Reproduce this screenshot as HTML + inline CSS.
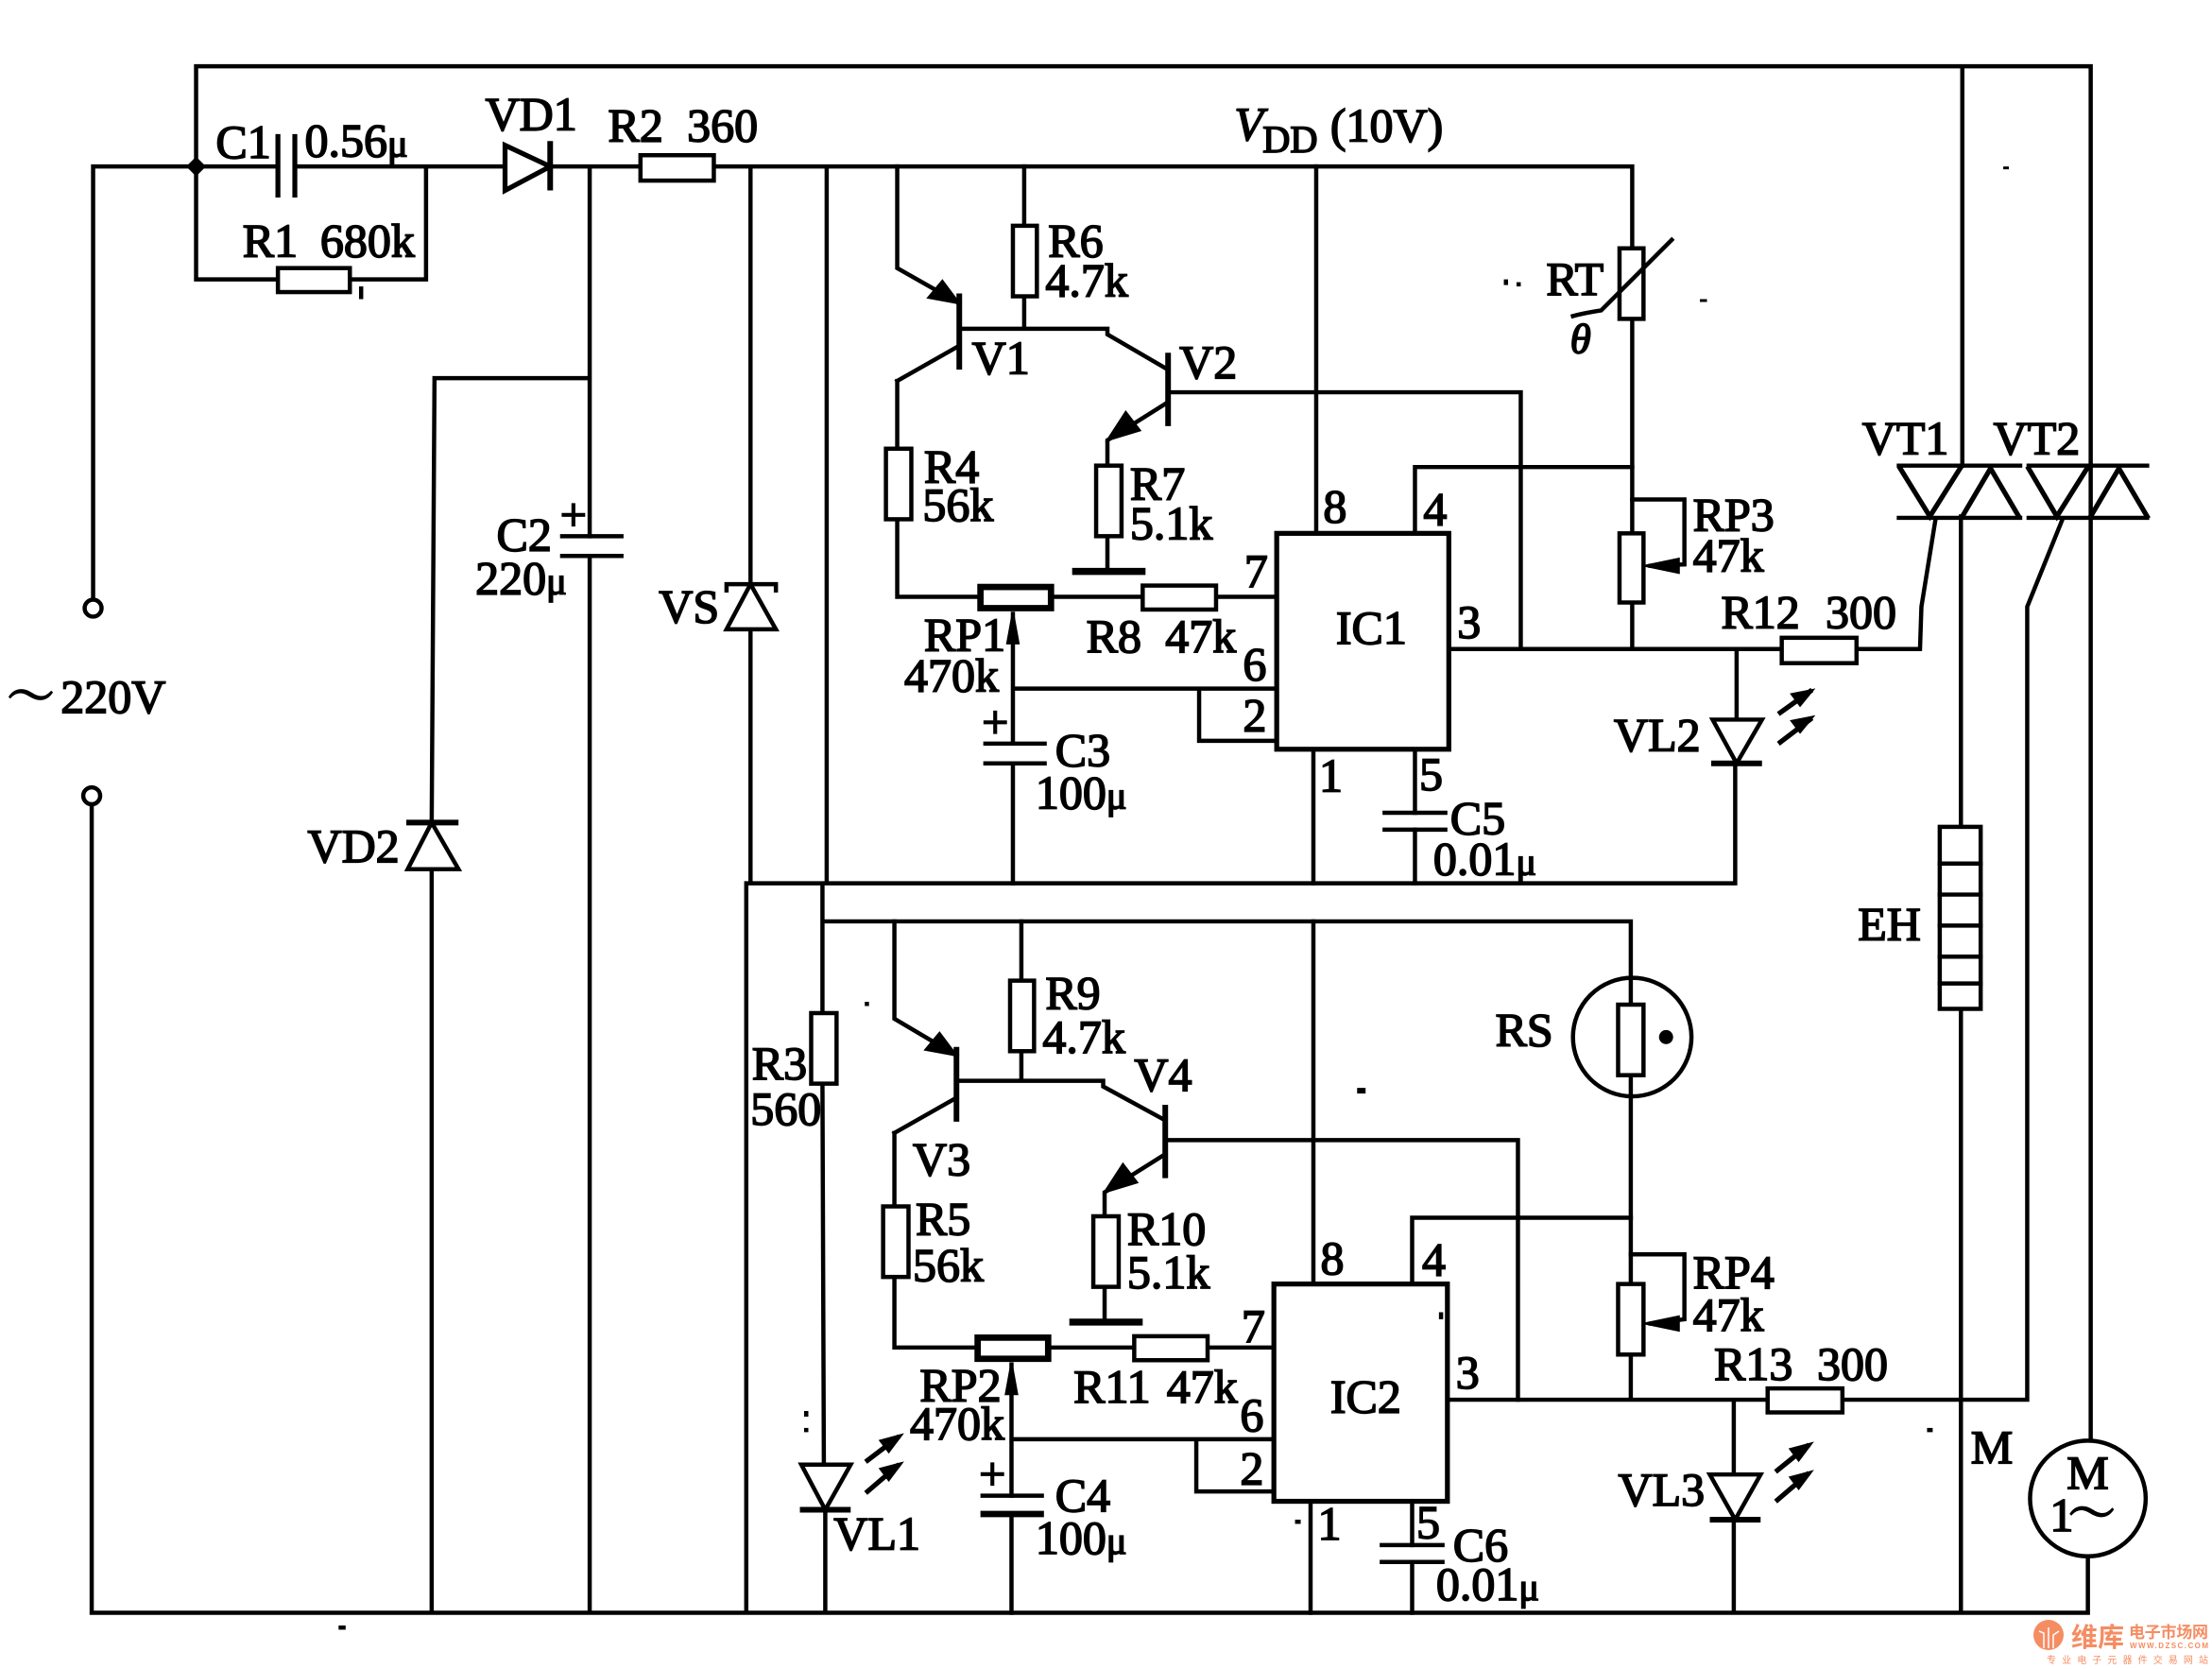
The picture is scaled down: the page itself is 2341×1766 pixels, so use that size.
<!DOCTYPE html>
<html><head><meta charset="utf-8"><style>
html,body{margin:0;padding:0;background:#fff}
svg{display:block}
.w{fill:none;stroke:#000;stroke-width:3;stroke-linejoin:miter;stroke-linecap:square}
.t{fill:#000;stroke:#000;stroke-width:1.5}
.b{fill:#fff;stroke:#000;stroke-width:3}
.h{fill:none;stroke:#000;stroke-width:5}
text{font-family:"Liberation Serif","Noto Serif CJK SC",serif;font-size:33.5px;fill:#000;stroke:#000;stroke-width:1.1}
.u{font-size:27px}
.wm{font-family:"Liberation Sans","Noto Sans CJK SC",sans-serif;fill:#f58d63;stroke:none;font-weight:700}
</style></head><body>
<svg xmlns="http://www.w3.org/2000/svg" width="2341" height="1766" viewBox="0 0 2341 1766">
<rect width="2341" height="1766" fill="#fff"/>
<g transform="scale(1.493)">
<!-- wires -->
<path class="w" d="M139 118V47H1482V1021M66 425V118H197M209 118H357M390 118H454M506 118H1157V176M1157 226V378M1157 427V460
M139 118V198H197M248 198H302V118M418 118V380M418 394V1143M308 268H418M308 268L306 583M306 616V1143
M532 118V414M532 446V626H1230V541M586 118V626M529 626V1143M583 626V718M583 768L584 1038M585 1070V1143
M584 653H1156V712M1156 762V910M1156 960V992M65 570V1143H1480V1103
M1391 47V330M1390 366V586M1390 715V1143M1316 460H1361L1362 430L1372 368M1462 368L1437 430V992H1306
M1027 460H1263M1231 460V510M1027 992H1253M1229 992V1045M1229 1077V1143"/>
<!-- top transistor block -->
<path class="w" d="M636 118V190L680 215M680 233H785V237L828 262M636 270L680 245M636 270V318M636 368V423H694M746 423H810M862 423H905
M726 118V160M726 210V233M828 278H1078V460M828 285L785 312V330M785 380V405M718 435V527M718 541V626M718 488H905M850 488V525H905
M933 118V378M931 531V626M1003 378V331H1157M1003 531V576M1003 588V626M1157 354H1194V400L1170 401"/>
<!-- bottom transistor block -->
<path class="w" d="M634 653V722L678 748M678 766H782V770L826 794M634 803L678 778M634 803V855M634 905V955H692M744 955H804M856 955H903
M724 653V695M724 745V766M826 808H1076V992M826 818L783 845V862M783 912V937M717 967V1060M717 1073V1143M717 1020H903M848 1020V1057H903
M931 653V910M929 1064V1143M1001 910V863H1156M1001 1064V1095M1001 1107V1143M1156 889H1194V935L1170 938"/>
<!-- transistor bars -->
<path class="h" d="M680 208V262M828 250V302M678 742V795M826 783V835" style="stroke-width:4"/>
<path class="h" d="M760 405H812M758 937H810"/>
<path class="t" d="M680 215L658 211L668 199ZM785 312L808 305L798 292ZM678 748L656 744L666 732ZM783 845L806 838L796 825Z"/>
<!-- junction -->
<path d="M139 111L146 118L139 125L132 118Z" fill="#000"/>
<!-- terminals -->
<circle cx="66" cy="431" r="6" class="b"/><circle cx="65" cy="564" r="6" class="b"/>
<!-- C1, VD1, R2, R1 -->
<path class="h" d="M197 95V140M209 95V140" style="stroke-width:3.5"/>
<path class="b" d="M358 103V135L390 118Z" style="stroke-width:3.5"/>
<path class="h" d="M390 100V135" style="stroke-width:4"/>
<rect class="b" x="454" y="110" width="52" height="18"/>
<rect class="b" x="197" y="190" width="51" height="17"/>
<path class="h" d="M256 203V212" style="stroke-width:3"/>
<!-- C2, VD2, VS -->
<path class="h" d="M397 380H442M397 394H442" style="stroke-width:3"/>
<path class="b" d="M306 583L289 616H325Z"/><path class="h" d="M288 583H325" style="stroke-width:4"/>
<path class="b" d="M532 414L515 446H550Z"/><path class="h" d="M515 420V414H550V420" style="stroke-width:3"/>
<!-- resistors top -->
<rect class="b" x="718" y="160" width="17" height="50"/>
<rect class="b" x="628" y="318" width="18" height="50"/>
<rect class="b" x="777" y="330" width="18" height="50"/>
<rect class="b" x="695" y="416" width="50" height="15" style="stroke-width:4.5"/>
<rect class="b" x="810" y="415" width="52" height="17"/>
<path class="t" d="M718 434L714 456H722Z"/>
<path class="h" d="M697 527H742M697 541H742" style="stroke-width:3"/>
<!-- IC1 -->
<rect x="905" y="378" width="122" height="153" fill="none" stroke="#000" stroke-width="3.5"/>
<path class="h" d="M980 576H1026M980 588H1026" style="stroke-width:3"/>
<!-- RT -->
<rect class="b" x="1148" y="176" width="17" height="50"/>
<path class="w" d="M1115 224Q1122 222 1135 220L1185 170"/>
<rect class="b" x="1148" y="378" width="17" height="49"/>
<path class="t" d="M1166 401L1190 396V406Z"/>
<!-- R12, VL2 -->
<rect class="b" x="1263" y="452" width="53" height="18"/>
<path class="b" d="M1214 510H1249L1231 541Z"/><path class="h" d="M1213 541H1249" style="stroke-width:4"/>
<path class="w" d="M1262 505L1283 490M1262 526L1283 510" style="stroke-width:3.5"/>
<path class="t" d="M1285 489L1270 492L1276 500ZM1285 508L1270 511L1276 519Z"/>
<!-- VT1 VT2 -->
<path class="w" d="M1346 330H1432M1346 367H1432M1438 330H1522M1438 367H1522"/>
<path class="w" d="M1347 332L1368 366L1390 331M1391 366L1411 332L1431 366M1438 332L1458 366L1480 331M1482 366L1502 332L1522 366" style="stroke-width:3.5"/>
<!-- EH -->
<rect class="b" x="1375" y="586" width="29" height="129"/>
<path class="w" d="M1375 612H1404M1375 634H1404M1375 656H1404M1375 678H1404M1375 697H1404"/>
<!-- Motor -->
<circle class="b" cx="1480" cy="1062" r="41"/>
<!-- R3, VL1 -->
<rect class="b" x="575" y="718" width="18" height="50"/>
<path class="b" d="M568 1038H603L585 1070Z"/><path class="h" d="M567 1070H603" style="stroke-width:4"/>
<path class="w" d="M615 1035L636 1019M615 1057L636 1039" style="stroke-width:3.5"/>
<path class="t" d="M639 1017L624 1021L630 1029ZM639 1037L624 1041L630 1049Z"/>
<!-- bottom resistors -->
<rect class="b" x="716" y="695" width="17" height="50"/>
<rect class="b" x="626" y="855" width="18" height="50"/>
<rect class="b" x="775" y="862" width="18" height="50"/>
<rect class="b" x="693" y="948" width="50" height="15" style="stroke-width:4.5"/>
<rect class="b" x="804" y="947" width="52" height="17"/>
<path class="t" d="M717 966L713 988H721Z"/>
<path class="h" d="M695 1060H740" style="stroke-width:3"/><path class="h" d="M695 1073H740" style="stroke-width:4.5"/>
<!-- IC2 -->
<rect x="903" y="910" width="123" height="154" fill="none" stroke="#000" stroke-width="3.5"/>
<path class="h" d="M978 1095H1024M978 1107H1024" style="stroke-width:3"/>
<!-- RS -->
<circle class="b" cx="1157" cy="735" r="42"/>
<path class="w" d="M1156 694V712M1156 762V777"/>
<rect class="b" x="1147" y="712" width="18" height="50"/>
<circle cx="1181" cy="735" r="5" fill="#000"/>
<!-- RP4 -->
<rect class="b" x="1147" y="910" width="18" height="50"/>
<path class="t" d="M1166 938L1190 933V943Z"/>
<!-- R13, VL3 -->
<rect class="b" x="1253" y="984" width="53" height="17"/>
<path class="b" d="M1212 1045H1248L1230 1077Z"/><path class="h" d="M1212 1077H1248" style="stroke-width:4"/>
<path class="w" d="M1260 1042L1281 1025M1260 1063L1281 1045" style="stroke-width:3.5"/>
<path class="t" d="M1284 1023L1269 1027L1275 1035ZM1284 1043L1269 1047L1275 1055Z"/>
<!-- labels -->
<text x="153" y="112">C1</text><text x="216" y="111">0.56<tspan class="u">μ</tspan></text>
<text x="344" y="92">VD1</text><text x="431" y="100">R2</text><text x="487" y="100">360</text>
<text x="875" y="99" font-style="italic">V</text><text x="895" y="108" style="font-size:27px">DD</text><text x="943" y="100">(10V)</text>
<text x="172" y="182">R1</text><text x="227" y="182">680k</text>
<text x="1096" y="209">RT</text><text x="1113" y="250" font-style="italic" style="font-size:30px">θ</text>
<text x="743" y="182">R6</text><text x="741" y="210">4.7k</text>
<text x="689" y="265">V1</text><text x="836" y="268">V2</text>
<text x="655" y="342">R4</text><text x="654" y="369">56k</text>
<text x="801" y="354">R7</text><text x="801" y="382">5.1k</text>
<text x="938" y="370">8</text><text x="1009" y="372">4</text><text x="882" y="416">7</text><text x="1033" y="452">3</text>
<text x="881" y="482">6</text><text x="881" y="518">2</text><text x="935" y="561">1</text><text x="1006" y="560">5</text>
<text x="947" y="456">IC1</text>
<text x="655" y="461">RP1</text><text x="641" y="490">470k</text>
<text x="770" y="462">R8</text><text x="826" y="462">47k</text>
<text x="696" y="523">+</text>
<text x="748" y="543">C3</text><text x="734" y="573">100<tspan class="u">μ</tspan></text>
<text x="1028" y="591">C5</text><text x="1016" y="620">0.01<tspan class="u">μ</tspan></text>
<text x="397" y="376">+</text>
<text x="352" y="390">C2</text><text x="337" y="421">220<tspan class="u">μ</tspan></text>
<text x="467" y="441">VS</text><text x="218" y="611">VD2</text>
<text x="5" y="505">～</text><text x="43" y="505">220V</text>
<text x="1200" y="376">RP3</text><text x="1200" y="405">47k</text>
<text x="1220" y="445">R12</text><text x="1294" y="445">300</text>
<text x="1144" y="532">VL2</text>
<text x="1320" y="322">VT1</text><text x="1413" y="322">VT2</text>
<text x="1317" y="666">EH</text><text x="1060" y="741">RS</text>
<text x="741" y="715">R9</text><text x="739" y="746">4.7k</text>
<text x="804" y="773">V4</text><text x="647" y="833">V3</text>
<text x="533" y="765">R3</text><text x="532" y="797">560</text>
<text x="649" y="875">R5</text><text x="647" y="908">56k</text>
<text x="799" y="882">R10</text><text x="799" y="913">5.1k</text>
<text x="1200" y="913">RP4</text><text x="1200" y="943">47k</text>
<text x="936" y="903">8</text><text x="1008" y="904">4</text><text x="880" y="951">7</text><text x="1032" y="984">3</text>
<text x="879" y="1014">6</text><text x="879" y="1052">2</text><text x="934" y="1091">1</text><text x="1004" y="1090">5</text>
<text x="943" y="1001">IC2</text>
<text x="652" y="993">RP2</text><text x="645" y="1020">470k</text>
<text x="761" y="994">R11</text><text x="827" y="994">47k</text>
<text x="694" y="1056">+</text>
<text x="748" y="1071">C4</text><text x="734" y="1101">100<tspan class="u">μ</tspan></text>
<text x="1030" y="1106">C6</text><text x="1018" y="1134">0.01<tspan class="u">μ</tspan></text>
<text x="591" y="1098">VL1</text><text x="1147" y="1067">VL3</text>
<text x="1215" y="978">R13</text><text x="1288" y="978">300</text>
<text x="1397" y="1037">M</text><text x="1465" y="1055">M</text><text x="1453" y="1085">1</text><text x="1466" y="1084">～</text>
<!-- specks -->
<g fill="#000"><rect x="613" y="710" width="3" height="3"/><rect x="962" y="771" width="6" height="4"/><rect x="570" y="1000" width="3" height="4"/><rect x="570" y="1012" width="3" height="3"/><rect x="918" y="1077" width="4" height="3"/><rect x="1420" y="118" width="4" height="2"/><rect x="1366" y="1012" width="4" height="3"/><rect x="1066" y="198" width="3" height="4"/><rect x="1075" y="200" width="3" height="3"/><rect x="1205" y="212" width="5" height="2"/><rect x="1020" y="930" width="3" height="5"/><rect x="240" y="1152" width="5" height="3"/></g>
</g>
<!-- watermark -->
<circle cx="2168" cy="1730" r="16" fill="#f58d63"/>
<path d="M2168 1744V1722M2163 1744V1728L2158 1726M2173 1744V1730L2179 1726" fill="none" stroke="#fff" stroke-width="1.5"/>
<text class="wm" x="2192" y="1742" style="font-size:28px">维库</text>
<text class="wm" x="2253" y="1733" style="font-size:17px" textLength="84">电子市场网</text>
<text class="wm" x="2254" y="1744" style="font-size:8px" textLength="83">WWW.DZSC.COM</text>
<text class="wm" x="2166" y="1760" style="font-size:10px;font-weight:400" textLength="171">专业电子元器件交易网站</text>
</svg>
</body></html>
